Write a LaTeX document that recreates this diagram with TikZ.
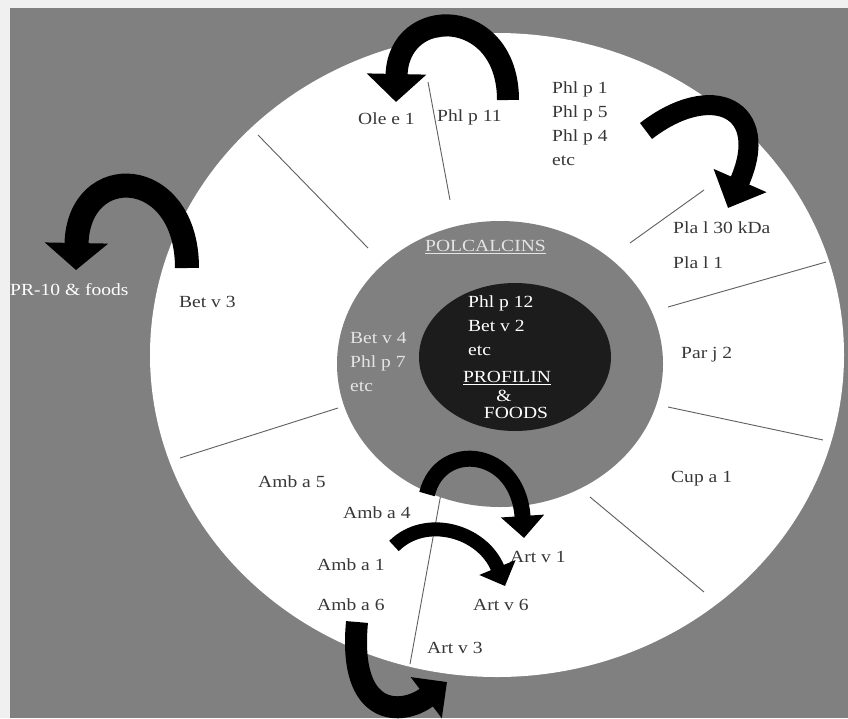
\documentclass[tikz,border=0pt]{standalone}
\usepackage{fontspec}
\setmainfont{Liberation Serif}[FakeStretch=1.15]
\usetikzlibrary{arrows.meta,shapes.geometric}
\definecolor{paper}{RGB}{240,240,240}
\definecolor{slate}{RGB}{128,128,128}
\definecolor{core}{RGB}{28,28,28}
\definecolor{ink}{RGB}{55,55,55}
\definecolor{pale}{RGB}{228,228,228}
\tikzset{
  lbl/.style={anchor=west,inner sep=0pt,text=#1,align=left,
    font=\fontsize{17}{24}\selectfont},
  lbl/.default=ink,
  disc/.style={ellipse,fill=#1,inner sep=0pt},
  divider/.style={draw=ink!80,line width=0.9pt},
  bentarrow/.style n args={3}{draw=black,line width=#1,
    -{Triangle[width=#2,length=#3]}},
}
\begin{document}
\begin{tikzpicture}[x=1pt,y=-1pt]
  \useasboundingbox (0,0) rectangle (848,718);
  \fill[paper] (0,0) rectangle (848,718);
  \fill[slate] (10,8) rectangle (848,718);
  % rings
  \node[disc=white,minimum width=694pt,minimum height=644pt] (ring) at (497,355) {};
  \foreach \xa/\ya/\xb/\yb in {428/82/450/200, 258/135/368/248, 630/243/704/190,
    668/307/826/262, 668/407/823/440, 590/497/704/592, 442/488/410/664, 180/458/338/408}
    \draw[divider] (\xa,\ya) -- (\xb,\yb);
  \node[disc=slate,minimum width=326pt,minimum height=286pt] (belt) at (500,364) {};
  \node[disc=core,minimum width=192pt,minimum height=148pt] (core) at (515,357) {};
  % labels in the white ring
  \foreach \n/\t/\px/\py in {ole/Ole e 1/358/119, phlxi/Phl p 11/437/117,
    plaxxx/Pla l 30 kDa/673/228, plai/Pla l 1/673/263, parii/Par j 2/681/355,
    cupi/Cup a 1/671/479, artvi/Art v 1/510/557, artvvi/Art v 6/473/605,
    artviii/Art v 3/427/648, ambv/Amb a 5/258/482, ambiv/Amb a 4/343/513,
    ambi/Amb a 1/317/565, ambvi/Amb a 6/317/605, betiii/Bet v 3/179/302}
    \node[lbl] (\n) at (\px,\py) {\t};
  \node[lbl] (grass) at (552,124) {Phl p 1\\Phl p 5\\Phl p 4\\etc};
  \node[lbl=white] (prx) at (10,290) {PR-10 \& foods};
  % middle and inner discs
  \node[lbl=pale] (polc) at (425,247) {\underline{POLCALCINS}};
  \node[lbl=pale] (betiv) at (350,362) {Bet v 4\\Phl p 7\\etc};
  \node[lbl=white] (profs) at (468,326) {Phl p 12\\Bet v 2\\etc};
  \node[lbl=white,anchor=center] (prof) at (507,378) {\underline{PROFILIN}};
  \node[lbl=white,anchor=center] (amp) at (504,396) {\&};
  \node[lbl=white,anchor=center] (foods) at (516,413) {FOODS};
  % bent arrows
  \coordinate (t1) at (508,100);  \coordinate (h1) at (396,102);
  \coordinate (t2) at (646,131);  \coordinate (h2) at (728,208);
  \coordinate (t3) at (187,268);  \coordinate (h3) at (76,270);
  \coordinate (t4) at (427,494);  \coordinate (h4) at (524,538);
  \coordinate (t5) at (394,546);  \coordinate (h5) at (505,586);
  \coordinate (t6) at (357,622);  \coordinate (h6) at (447,682);
  \draw[bentarrow={22pt}{58pt}{28pt}] (t1) .. controls (508,6) and (398,4) .. (h1);
  \draw[bentarrow={20pt}{56pt}{30pt}] (t2) .. controls (712,80) and (772,108) .. (h2);
  \draw[bentarrow={24pt}{62pt}{27pt}] (t3) .. controls (187,165) and (78,160) .. (h3);
  \draw[bentarrow={16pt}{42pt}{22pt}] (t4) .. controls (440,440) and (518,448) .. (h4);
  \draw[bentarrow={14pt}{38pt}{20pt}] (t5) .. controls (425,515) and (482,530) .. (h5);
  \draw[bentarrow={22pt}{50pt}{26pt}] (t6) .. controls (348,718) and (402,716) .. (h6);
\end{tikzpicture}
\end{document}
